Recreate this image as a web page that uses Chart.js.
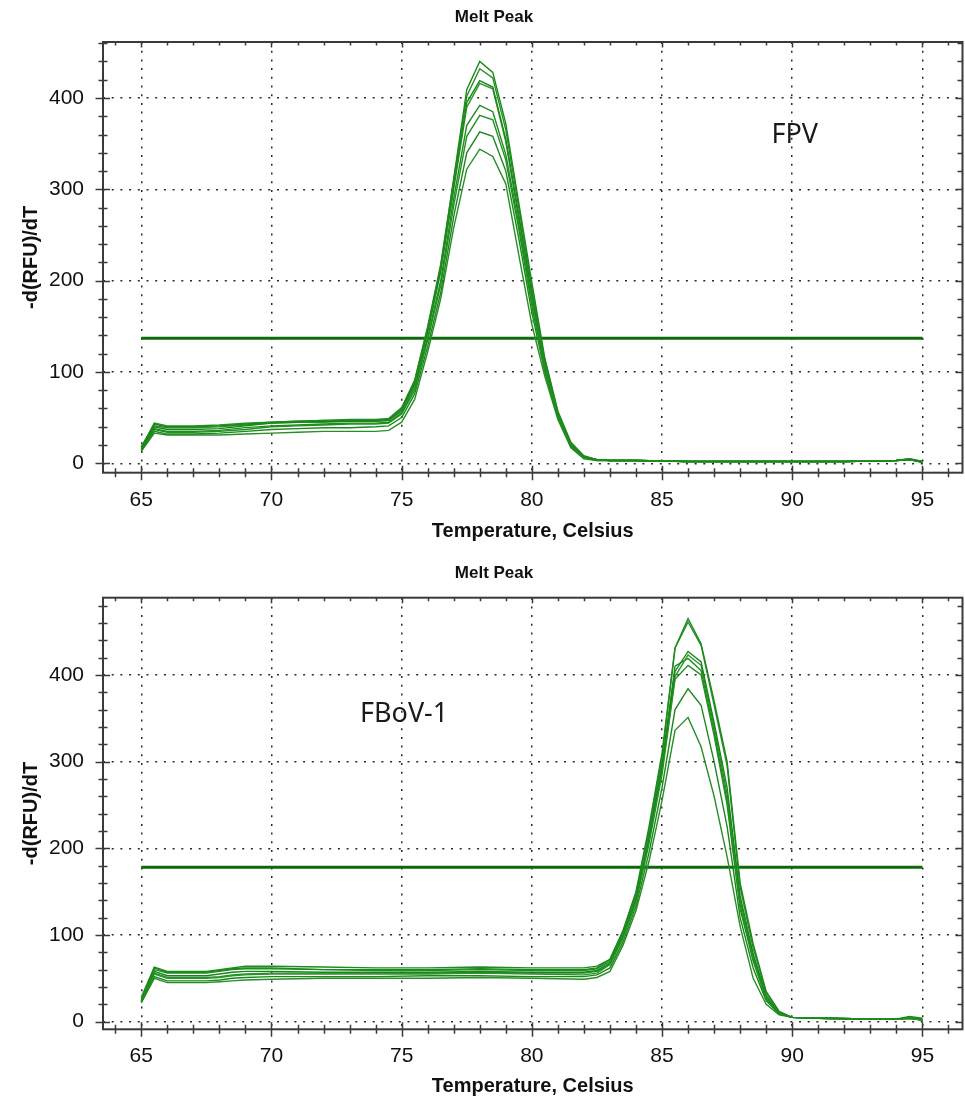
<!DOCTYPE html>
<html><head><meta charset="utf-8">
<script src="https://cdn.jsdelivr.net/npm/chart.js@4.4.1/dist/chart.umd.min.js"></script>
<style>
html,body{margin:0;padding:0;background:#fff;}
#wrap{position:relative;width:965px;height:1098px;overflow:hidden;background:#fff;}
.box{position:absolute;left:0;width:965px;}
</style></head><body>
<div id="wrap">
<div class="box" style="top:0;height:550px"><canvas id="c1"></canvas></div>
<div class="box" style="top:550px;height:548px"><canvas id="c2"></canvas></div>
</div>
<script>
// ---------- FPV (top chart) ----------
const fpvTemps = [65, 65.5, 66, 67, 68, 69, 70, 71, 72, 73, 74, 74.5, 75, 75.5, 76, 76.5, 77, 77.5, 78, 78.5, 79, 79.5, 80, 80.5, 81, 81.5, 82, 82.5, 83, 84, 86, 88, 90, 92, 94, 94.5, 95];
const fpv1 = [18,43,40,40,41,43,45,46,47,47,47,48,60,90,148,215,312,409,440,428,372,285,198,115,57,23,8,4,3,3,2,2,2,2,3,5,2];
const fpv2 = [17,44,41,41,42,44,45,46,47,48,48,49,61,91,150,218,310,402,432,422,365,280,192,112,56,22,8,4,3,3,2,2,2,2,3,4,2];
const fpv3 = [16,40,37,37,38,41,44,45,46,46,46,47,58,88,145,212,305,395,419,412,355,272,186,110,55,21,7,4,3,3,2,2,2,2,3,4,1];
const fpv4 = [18,41,39,39,40,42,44,45,45,46,46,47,57,86,143,210,300,390,416,410,352,268,183,108,54,21,7,4,3,3,2,2,2,2,3,5,2];
const fpv5 = [15,38,35,35,36,39,41,42,43,44,44,45,55,83,138,200,290,370,392,385,338,262,178,105,52,20,7,4,3,3,2,2,2,2,3,4,2];
const fpv6 = [16,37,34,34,35,37,40,41,42,43,43,44,54,80,135,195,282,358,381,376,332,256,172,103,51,19,6,4,3,3,2,2,2,2,3,4,2];
const fpv7 = [14,35,32,32,33,35,37,38,39,39,40,41,50,76,128,187,270,340,363,358,320,246,165,100,50,18,6,3,3,3,2,2,2,2,3,4,1];
const fpv8 = [13,33,31,31,31,32,33,34,35,35,35,36,45,70,122,180,258,322,344,336,306,228,152,95,48,17,5,3,3,3,2,2,2,2,3,4,1];
const fpvThreshold = 137;

// ---------- FBoV-1 (bottom chart) ----------
const fbovTemps = [65, 65.5, 66, 67, 67.5, 68, 68.5, 69, 70, 72, 74, 76, 78, 80, 82, 82.5, 83, 83.5, 84, 84.5, 85, 85.5, 86, 86.5, 87, 87.5, 88, 88.5, 89, 89.5, 90, 91, 93, 94, 94.5, 95];
const fbov1 = [24,62,57,57,57,59,61,62,62,60,60,60,61,60,60,62,72,105,150,225,310,431,465,436,370,300,160,90,35,12,5,4,3,3,6,4];
const fbov2 = [26,60,56,56,56,58,60,61,61,60,59,59,60,59,59,61,70,102,145,220,305,431,461,434,365,295,155,85,33,11,5,4,3,3,5,3];
const fbov3 = [25,58,53,53,53,55,57,58,58,57,57,57,58,57,57,59,68,100,142,212,295,404,427,415,345,270,145,78,30,10,5,4,3,3,5,3];
const fbov4 = [24,55,50,50,50,51,53,54,55,55,55,55,56,55,54,56,66,98,140,210,290,398,423,411,340,262,140,75,28,10,5,4,3,3,4,2];
const fbov5 = [28,63,58,58,58,60,62,64,64,63,62,62,63,62,62,64,72,104,148,218,298,410,419,405,335,255,135,72,27,9,5,4,3,3,4,2];
const fbov6 = [23,56,51,51,51,52,54,55,56,56,56,56,57,56,56,58,66,96,138,205,285,395,411,400,330,250,130,70,26,9,5,4,3,3,4,2];
const fbov7 = [22,52,47,47,47,48,50,51,52,52,52,53,53,52,52,54,62,92,133,195,270,360,384,365,300,225,120,62,24,9,5,4,3,3,4,2];
const fbov8 = [22,50,45,45,45,46,47,48,49,50,50,50,51,50,49,51,58,88,128,185,255,336,351,317,260,190,110,50,20,8,5,4,3,3,4,2];
const fbovThreshold = 178;

// ---------- axes ----------
const xTickValues = [65, 70, 75, 80, 85, 90, 95];
const yTickValues = [0, 100, 200, 300, 400];
const thresholdSpan = [65, 95];
const chartTitle = 'Melt Peak';
const xTitle = 'Temperature, Celsius';
const yTitle = '-d(RFU)/dT';

const toPts = (temps, vals) => temps.map((t, i) => ({x: t, y: vals[i]}));

const frameTicks = {
  id: 'frameTicks',
  afterDraw(chart) {
    const {ctx, chartArea: a, scales: {x, y}} = chart;
    ctx.save();
    ctx.strokeStyle = '#3a3a3a';
    ctx.lineWidth = 2;
    ctx.strokeRect(a.left, a.top, a.right - a.left, a.bottom - a.top);
    ctx.lineWidth = 1.5;
    ctx.beginPath();
    for (let t = Math.ceil(x.min); t <= x.max; t++) {
      const px = Math.round(x.getPixelForValue(t)) + 0.5;
      const major = t % 5 === 0;
      ctx.moveTo(px, a.bottom - (major ? 7 : 4.5));
      ctx.lineTo(px, a.bottom + (major ? 7.5 : 4.5));
      ctx.moveTo(px, a.top);
      ctx.lineTo(px, a.top + (major ? 5.5 : 3.5));
    }
    for (let v = Math.ceil(y.min / 20) * 20; v <= y.max; v += 20) {
      const py = Math.round(y.getPixelForValue(v)) + 0.5;
      const major = v % 100 === 0;
      ctx.moveTo(a.left - (major ? 7.5 : 4.5), py);
      ctx.lineTo(a.left + (major ? 7 : 4.5), py);
      ctx.moveTo(a.right, py);
      ctx.lineTo(a.right - (major ? 7 : 5), py);
    }
    ctx.stroke();
    ctx.restore();
  }
};

const textMarks = {
  id: 'textMarks',
  afterDraw(chart, args, opts) {
    const {ctx, scales: {x, y}} = chart;
    ctx.save();
    ctx.fillStyle = '#111';
    ctx.font = 'bold 17px "Liberation Sans", Arial, sans-serif';
    ctx.textAlign = 'center';
    ctx.textBaseline = 'middle';
    ctx.fillText(chartTitle, opts.titleX, opts.titleY);
    ctx.fillStyle = '#1a1a1a';
    ctx.font = '27px "Noto Sans", "Open Sans", sans-serif';
    ctx.textAlign = 'left';
    ctx.textBaseline = 'alphabetic';
    ctx.fillText(opts.label, x.getPixelForValue(opts.labelX), y.getPixelForValue(opts.labelY));
    ctx.restore();
  }
};

function makeChart(id, temps, series, threshold, cfg) {
  const lineColors = ['#1b8a1b', '#238f23', '#1a861a', '#2a942a', '#1e8c1e', '#229022', '#1c881c', '#268f26'];
  const datasets = series.map((s, i) => ({
    data: toPts(temps, s),
    borderColor: lineColors[i % lineColors.length],
    borderWidth: 1.4,
    pointRadius: 0,
    tension: 0,
    fill: false
  }));
  datasets.push({
    data: thresholdSpan.map(t => ({x: t, y: threshold})),
    borderColor: '#0c6a0c',
    borderWidth: 3,
    pointRadius: 0,
    tension: 0,
    fill: false
  });
  return new Chart(document.getElementById(id), {
    type: 'line',
    data: {datasets},
    plugins: [frameTicks, textMarks],
    options: {
      responsive: true,
      maintainAspectRatio: false,
      animation: false,
      events: [],
      layout: {padding: {top: cfg.padTop, right: 2.5, left: 0, bottom: 0}},
      plugins: {
        legend: {display: false},
        tooltip: {enabled: false},
        title: {display: false},
        textMarks: {titleX: cfg.titleX, titleY: cfg.titleY, label: cfg.label, labelX: cfg.labelX, labelY: cfg.labelY}
      },
      scales: {
        x: {
          type: 'linear',
          min: 63.53, max: 96.54,
          afterBuildTicks: s => { s.ticks = xTickValues.map(v => ({value: v})); },
          afterFit: s => { s.height = cfg.xAxisH; },
          ticks: {
            color: '#111',
            font: {family: '"Liberation Sans", Arial, sans-serif', size: 21},
            padding: 14.5,
            maxRotation: 0,
            autoSkip: false
          },
          grid: {display: true, color: '#2a2a2a', lineWidth: 1.5, drawTicks: false},
          border: {display: false, dash: [2, 6.7]},
          title: {
            display: true, text: xTitle, color: '#111',
            font: {family: '"Liberation Sans", Arial, sans-serif', size: 20, weight: 'bold'},
            padding: {top: 0, bottom: cfg.xTitlePad}
          }
        },
        y: {
          type: 'linear',
          min: cfg.yMin, max: cfg.yMax,
          afterBuildTicks: s => { s.ticks = yTickValues.map(v => ({value: v})); },
          afterFit: s => { s.width = 103; },
          ticks: {
            color: '#111',
            font: {family: '"Liberation Sans", Arial, sans-serif', size: 21},
            padding: 19
          },
          grid: {display: true, color: '#2a2a2a', lineWidth: 1.5, drawTicks: false},
          border: {display: false, dash: [2, 6.7]},
          title: {
            display: true, text: yTitle, color: '#111',
            font: {family: '"Liberation Sans", Arial, sans-serif', size: 20, weight: 'bold'},
            padding: {top: 19, bottom: 0}
          }
        }
      }
    }
  });
}

makeChart('c1', fpvTemps, [fpv1, fpv2, fpv3, fpv4, fpv5, fpv6, fpv7, fpv8], fpvThreshold,
  {padTop: 42, xAxisH: 77.3, xTitlePad: 7, yMin: -10.3, yMax: 461.3, titleX: 494, titleY: 17.8,
   label: 'FPV', labelX: 89.2, labelY: 351});
makeChart('c2', fbovTemps, [fbov1, fbov2, fbov3, fbov4, fbov5, fbov6, fbov7, fbov8], fbovThreshold,
  {padTop: 47.7, xAxisH: 68.7, xTitlePad: 0, yMin: -8.8, yMax: 489, titleX: 494, titleY: 23.3,
   label: 'FBoV-1', labelX: 73.4, labelY: 346});
</script>
</body></html>
